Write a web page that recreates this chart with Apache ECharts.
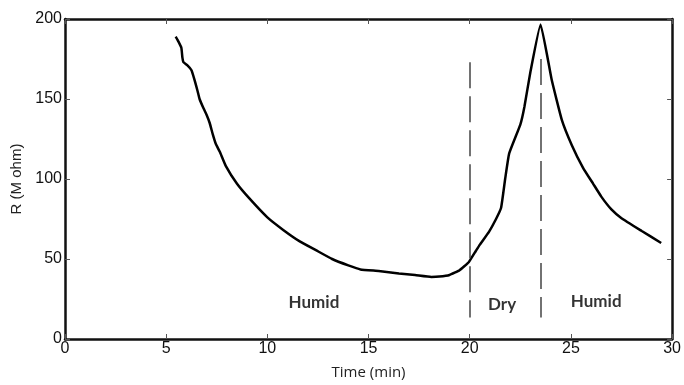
<!DOCTYPE html>
<html>
<head>
<meta charset="utf-8">
<script src="https://cdn.jsdelivr.net/npm/echarts@6/dist/echarts.min.js"></script>
<style>
  html, body { margin: 0; padding: 0; background: #fff; }
  #chart { width: 684px; height: 385px; }
</style>
</head>
<body>
<div id="chart"></div>
<script>
// Resistance vs time under alternating humid / dry conditions
const time = [5.47, 5.6, 5.75, 5.8, 5.85, 6.05, 6.25, 6.4, 6.55, 6.65, 6.85, 7.0, 7.15, 7.3, 7.45, 7.65, 7.95,
  8.5, 9.1, 10, 10.8, 11.6, 12.4, 13.2, 14, 14.6, 15.5, 16.5, 17.3, 18.1, 18.5, 19, 19.5, 19.95,
  20.3, 20.5, 20.95, 21.3, 21.55, 21.75, 21.95, 22.5, 22.7, 23.0, 23.5,
  24.05, 24.55, 25.05, 25.6, 26.1, 26.5, 27.0, 27.5, 28.5, 29.46];
const resistance = [189, 186, 182, 176, 173, 171, 168, 162, 155, 150, 144, 140, 135, 128, 122, 117, 108,
  97, 88, 76, 68, 61, 55.5, 50, 46, 43.5, 42.5, 41, 40, 38.8, 39, 40, 43, 48,
  55, 59, 67, 75, 82, 100, 116, 134, 145, 167, 196.5,
  162, 137, 121, 107, 97, 89, 81, 75.5, 67.5, 60];

// Phase boundaries (min) and extent of the dashed markers (M ohm)
const switchTimes = [20, 23.5];
const switchTop = [173, 175];
const switchBottom = 13.5;

// Phase labels
const phaseNames = ['Humid', 'Dry', 'Humid'];
const phaseX = [12.3, 21.6, 26.25];
const phaseY = [22.8, 21.5, 23.4];

const xTicks = [0, 30, 5];
const yTicks = [0, 200, 50];

const axisLine = { show: true, onZero: false, lineStyle: { color: '#111', width: 2.5 } };
const axisTick = { show: true, inside: true, length: 5, lineStyle: { color: '#555', width: 1 } };
const tickFont = { fontFamily: 'Liberation Sans, Arial, sans-serif', fontSize: 16, color: '#111' };

const chart = echarts.init(document.getElementById('chart'));
chart.setOption({
  animation: false,
  grid: { left: 65, right: 9, top: 19, bottom: 41 },
  xAxis: [
    {
      type: 'value', position: 'bottom', min: xTicks[0], max: xTicks[1], interval: xTicks[2],
      name: 'Time (min)', nameLocation: 'middle', nameGap: 26,
      nameTextStyle: { fontFamily: 'Open Sans, sans-serif', fontSize: 15, color: '#222' },
      axisLine: axisLine,
      axisTick: axisTick,
      axisLabel: Object.assign({ margin: 2 }, tickFont),
      splitLine: { show: false }
    },
    {
      type: 'value', position: 'top', min: xTicks[0], max: xTicks[1], interval: xTicks[2],
      axisLine: axisLine,
      axisTick: axisTick,
      axisLabel: { show: false },
      splitLine: { show: false }
    }
  ],
  yAxis: [
    {
      type: 'value', position: 'left', min: yTicks[0], max: yTicks[1], interval: yTicks[2],
      name: 'R (M ohm)', nameLocation: 'middle', nameGap: 34, nameRotate: 90,
      nameTextStyle: { fontFamily: 'Liberation Sans, Arial, sans-serif', fontSize: 15, color: '#222' },
      axisLine: axisLine,
      axisTick: axisTick,
      axisLabel: Object.assign({ margin: 3 }, tickFont),
      splitLine: { show: false }
    },
    {
      type: 'value', position: 'right', min: yTicks[0], max: yTicks[1], interval: yTicks[2],
      axisLine: axisLine,
      axisTick: axisTick,
      axisLabel: { show: false },
      splitLine: { show: false }
    }
  ],
  series: [
    {
      type: 'line',
      data: time.map((t, i) => [t, resistance[i]]),
      showSymbol: false,
      smooth: 0.12,
      lineStyle: { color: '#000', width: 2.5 },
      markLine: {
        silent: true,
        symbol: 'none',
        label: { show: false },
        lineStyle: { type: [26, 8], color: '#444', width: 1.5 },
        data: switchTimes.map((t, i) => [
          { coord: [t, switchTop[i]] },
          { coord: [t, switchBottom] }
        ])
      }
    },
    {
      type: 'scatter',
      symbolSize: 0,
      itemStyle: { color: '#000' },
      data: phaseNames.map((n, i) => ({ value: [phaseX[i], phaseY[i]], name: n })),
      label: {
        show: true, position: 'inside',
        formatter: p => p.name,
        fontFamily: 'Lato, sans-serif', fontWeight: 'bold', fontSize: 17,
        color: '#000', textBorderWidth: 0
      }
    }
  ]
});
</script>
</body>
</html>
